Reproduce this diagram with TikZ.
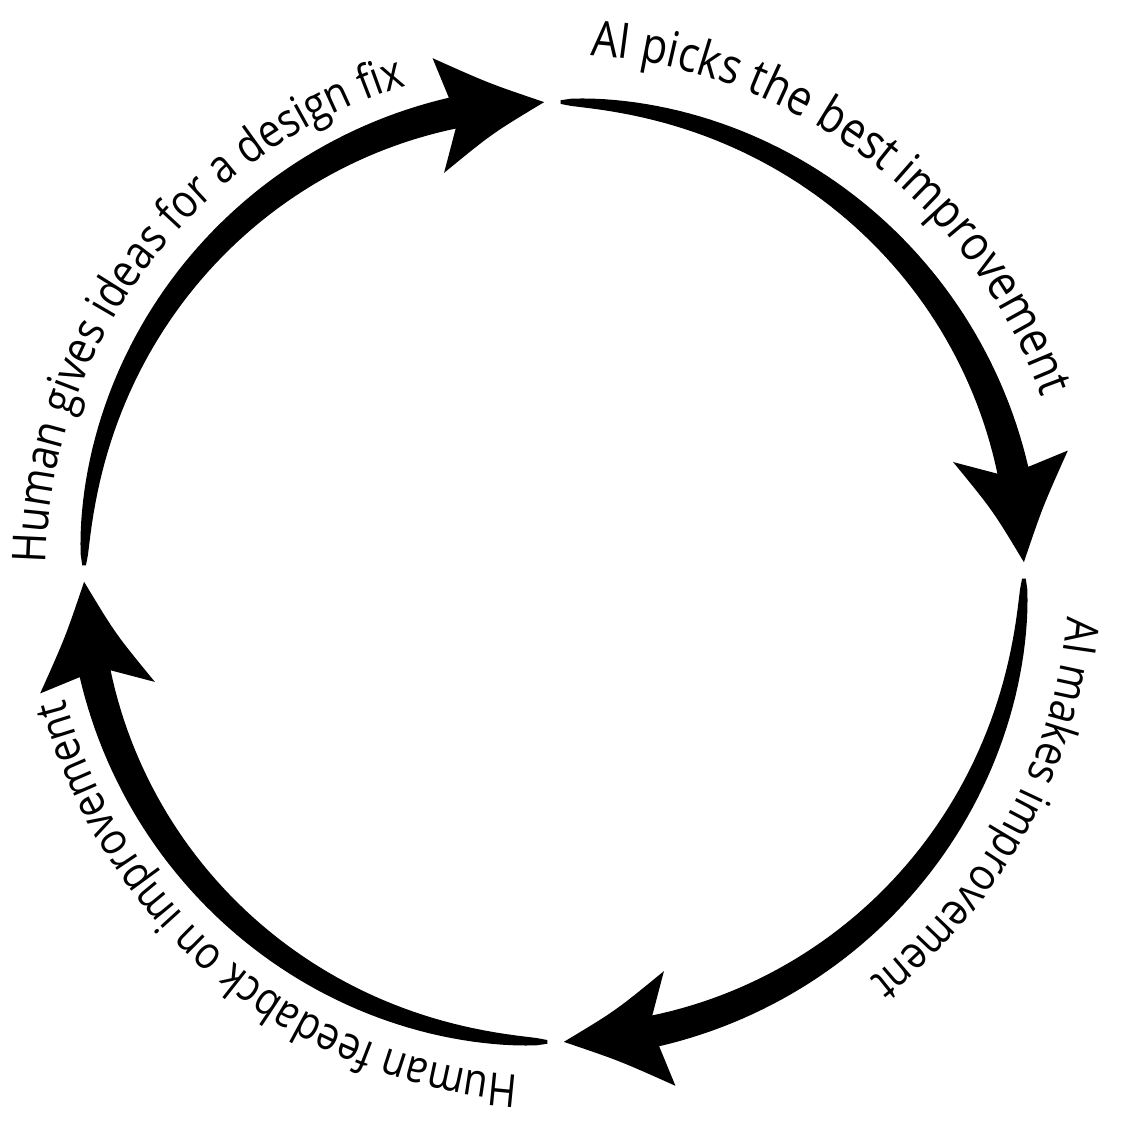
\documentclass[tikz,border=0pt]{standalone}
\usepackage{fontspec}
\setmainfont{Open Sans}[FakeStretch=0.86]
\usetikzlibrary{decorations.text}
\tikzset{
  cycletext/.style 2 args={decorate,decoration={text along path,text align=left,text={|\fontsize{#1}{#1}\selectfont|#2}}},
  cyclearrow/.style={fill=black}
}
\begin{document}
\begin{tikzpicture}
\useasboundingbox (-5.54,-5.58) rectangle (5.67,5.72);
\def\R{4.70}
\foreach \rot in {0,90,180,270}{
  \begin{scope}[rotate=\rot]
  \fill[cyclearrow] plot[domain=89.2:12.5,samples=60] (\x:{\R+0.018+0.14*sqrt((89.2-\x)/76.7)})
    -- (13.3:5.28) .. controls (7.6:4.93) .. (1.2:\R)
    .. controls (8.0:4.43) .. (15.4:4.14)
    -- plot[domain=12.5:89.2,samples=60] (\x:{\R-0.018-0.14*sqrt((89.2-\x)/76.7)}) -- cycle;
  \end{scope}
}
\path[cycletext={14pt}{AI picks the best improvement}] (86:5.18) arc[start angle=86,end angle=0,radius=5.18];
\path[cycletext={13.3pt}{Human gives ideas for a design fix}] (179:5.08) arc[start angle=179,end angle=90,radius=5.08];
\path[cycletext={13pt}{AI makes improvement}] (-5:5.15) arc[start angle=-5,end angle=-80,radius=5.15];
\path[cycletext={13pt}{Human feedabck on improvement}] (-94:5.05) arc[start angle=-94,end angle=-190,radius=5.05];
\end{tikzpicture}
\end{document}
